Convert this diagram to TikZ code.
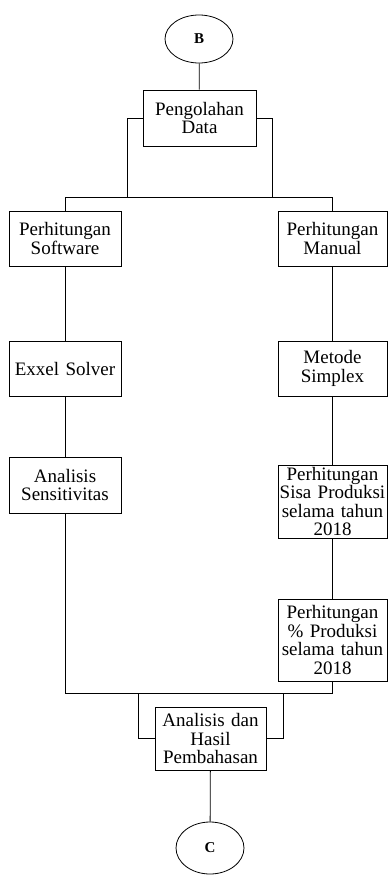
\documentclass[tikz,border=0pt]{standalone}
\usepackage{fontspec}
\setmainfont{Liberation Serif}
\usepackage{tikz}
\usetikzlibrary{shapes.geometric}

\begin{document}
\begin{tikzpicture}[x=1pt, y=-1pt, line width=0.8pt,
    box/.style={rectangle, draw=black, align=center, inner xsep=0pt, inner ysep=0pt,
      font=\fontsize{19}{18.5}\selectfont},
    connector/.style={ellipse, draw=black, inner sep=0pt, minimum width=68pt,
      font=\fontsize{15}{15}\selectfont\bfseries}]
      \useasboundingbox (0,0) rectangle (388,875);

      \node[connector, minimum height=48pt] (B) at (199,39) {B};
      \node[box, text width=113pt, minimum height=56pt] (peng) at (199.5,118) {Pengolahan\\Data};

      \node[box, text width=112pt, minimum height=55pt] (soft) at (65,238.5) {Perhitungan\\Software};
      \node[box, text width=109pt, minimum height=55pt] (manual) at (332.5,238.5) {Perhitungan\\Manual};

      \node[box, text width=112pt, minimum height=55pt] (solver) at (65,368.5) {Exxel Solver};
      \node[box, text width=109pt, minimum height=55pt] (simplex) at (332.5,368.5) {Metode\\Simplex};

      \node[box, text width=112pt, minimum height=56pt] (sens) at (65,485) {Analisis\\Sensitivitas};
      \node[box, text width=109pt, minimum height=73pt] (sisa) at (332.5,501.5) {Perhitungan\\Sisa Produksi\\selama tahun\\2018};
      \node[box, text width=109pt, minimum height=82pt] (persen) at (332.5,640) {Perhitungan\\\%~Produksi\\selama tahun\\2018};

      \node[box, text width=111pt, minimum height=63pt] (hasil) at (210.5,738.5) {Analisis dan\\Hasil\\Pembahasan};
      \node[connector, minimum height=52pt] (C) at (210,848) {C};

      \coordinate (atas) at (0,197);
      \coordinate (bawah) at (0,693);
      \coordinate (kiri1) at (127,197);
      \coordinate (kanan1) at (272,197);
      \coordinate (kiri2) at (138,693);
      \coordinate (kanan2) at (283,693);

      \draw (B) -- (peng);
      \draw (peng.west) -| (kiri1);
      \draw (peng.east) -| (kanan1);
      \draw (soft) -- (soft |- atas) -- (manual |- atas) -- (manual);

      \draw (soft) -- (solver);
      \draw (solver) -- (sens);
      \draw (manual) -- (simplex);
      \draw (simplex) -- (sisa);
      \draw (sisa) -- (persen);

      \draw (sens) -- (sens |- bawah) -- (persen |- bawah) -- (persen);
      \draw (hasil.west) -| (kiri2);
      \draw (hasil.east) -| (kanan2);
      \draw (hasil) -- (C);
\end{tikzpicture}
\end{document}
